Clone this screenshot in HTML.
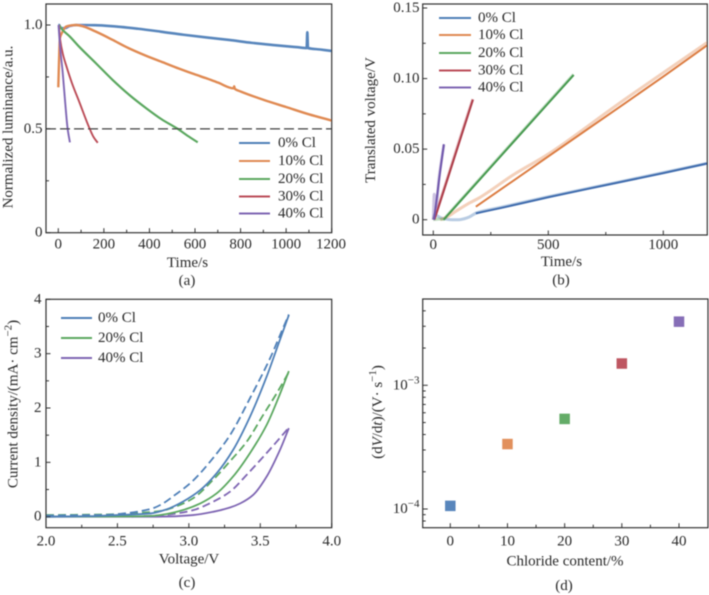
<!DOCTYPE html>
<html lang="en">
<head>
<meta charset="utf-8">
<title>Chloride content device measurements</title>
<style>
html,body{margin:0;padding:0;background:#fff;width:709px;height:595px;overflow:hidden}
svg{display:block;font-family:"Liberation Serif",serif;font-size:15px;fill:#2b2b2b}
</style>
</head>
<body>
<svg id="fig" width="709" height="595" viewBox="0 0 709 595" xmlns="http://www.w3.org/2000/svg">
<defs><filter id="soft" x="-5%" y="-5%" width="110%" height="110%"><feGaussianBlur stdDeviation="0.45"/></filter></defs>
<g id="root" filter="url(#soft)"></g>
</svg>
<script>
// ---------- shared ----------
const colorBlue = '#5080b8', colorOrange = '#e08a52', colorGreen = '#5ca860', colorRed = '#bb4e58', colorPurple = '#7f66b3';
const fitBlue = '#3f6cad', fitOrange = '#dc7d42', fitGreen = '#479a50', fitRed = '#ad3c4a', fitPurple = '#7056ab';

// ---------- panel (a) data: [time, luminance] ----------
const aTicksX = [0, 200, 400, 600, 800, 1000, 1200];
const aMinorX = [100, 300, 500, 700, 900, 1100];
const aTicksY = [0, 0.5, 1.0];
const aTickLabelsY = ['0', '0.5', '1.0'];
const aMinorY = [0.25, 0.75];
const aThreshold = 0.5;
const aLum0 = [[0,1.0],[4,1.0],[10,.985],[30,.985],[50,.995],[80,1.0],[160,.999],[250,.993],[350,.982],[450,.968],[550,.953],[650,.94],[750,.928],[850,.914],[950,.903],[1050,.893],[1090,.889],[1093,.965],[1096,.889],[1150,.882],[1200,.875]];
const aLum10 = [[0,.70],[3,.82],[7,.937],[15,.96],[34,.992],[55,.998],[78,1.0],[110,.993],[165,.968],[239,.928],[300,.893],[385,.852],[460,.82],[530,.79],[600,.762],[648,.744],[700,.723],[770,.695],[772,.705],[775,.692],[800,.68],[900,.64],[1000,.605],[1100,.57],[1200,.54]];
const aLum20 = [[3,1.0],[19,.976],[50,.945],[92,.895],[165,.816],[239,.735],[312,.663],[385,.6],[455,.545],[524,.5],[570,.465],[612,.435]];
const aLum30 = [[3,1.0],[8,.93],[20,.86],[34,.807],[60,.72],[92,.63],[136,.505],[155,.46],[173,.433]];
const aLum40 = [[1,1.0],[8,.89],[19,.775],[30,.63],[41,.5],[51,.435]];
const legendA = ['0% Cl', '10% Cl', '20% Cl', '30% Cl', '40% Cl'];

// ---------- panel (b) data: [time, voltage] ----------
const bTicksX = [0, 500, 1000];
const bMinorX = [250, 750];
const bTicksY = [0, 0.05, 0.10, 0.15];
const bTickLabelsY = ['0', '0.05', '0.10', '0.15'];
const bMinorY = [0.025, 0.075, 0.125];
const bRaw0 = [[0,0],[8,.004],[15,.003],[40,.001],[80,0],[110,0],[150,.0015],[190,.005],[300,.009],[500,.0163],[800,.0265],[1190,.0399]];
const bFit0 = [[185,.0045],[300,.0085],[500,.0159],[750,.0245],[1000,.033],[1190,.0398]];
const bRaw10 = [[30,0],[60,.002],[100,.0062],[150,.0112],[200,.0155],[350,.032],[500,.0465],[800,.0815],[1190,.1255]];
const bFit10 = [[185,.0092],[500,.0448],[750,.0731],[1000,.1014],[1190,.1235]];
const bRaw20 = [[0,0],[25,.0005],[45,.0003],[60,.003],[100,.0103],[300,.0467],[610,.103]];
const bFit20 = [[45,0],[300,.0463],[610,.1025]];
const bRaw30 = [[0,0],[10,.004],[60,.0285],[120,.0595],[172,.0855]];
const bFit30 = [[5,0],[60,.028],[120,.0585],[172,.085]];
const bRaw40 = [[0,0],[4,.018],[12,.009],[25,.03],[46,.053]];
const bFit40 = [[3,0],[15,.015],[30,.0345],[46,.0535]];
const legendB = ['0% Cl', '10% Cl', '20% Cl', '30% Cl', '40% Cl'];

// ---------- panel (c) data: [voltage, current] ----------
const cTicksX = [2.0, 2.5, 3.0, 3.5, 4.0];
const cTickLabelsX = ['2.0', '2.5', '3.0', '3.5', '4.0'];
const cMinorX = [2.25, 2.75, 3.25, 3.75];
const cTicksY = [0, 1, 2, 3, 4];
const cMinorY = [0.5, 1.5, 2.5, 3.5];
const cSolid0 = [[2,0],[2.3,.01],[2.5,.03],[2.73,.06],[2.845,.136],[2.96,.28],[3.08,.49],[3.195,.8],[3.31,1.23],[3.428,1.84],[3.545,2.58],[3.63,3.2],[3.7,3.71]];
const cDash0 = [[2,.02],[2.4,.03],[2.55,.06],[2.73,.14],[2.8,.215],[2.903,.4],[3.02,.64],[3.148,1.01],[3.288,1.5],[3.428,2.18],[3.568,2.91],[3.64,3.35],[3.7,3.72]];
const cSolid20 = [[2,0],[2.5,.005],[2.73,.013],[2.845,.05],[2.96,.123],[3.08,.245],[3.195,.43],[3.31,.74],[3.428,1.17],[3.545,1.69],[3.626,2.18],[3.7,2.68]];
const cDash20 = [[2,.03],[2.4,.04],[2.65,.07],[2.8,.105],[2.9,.18],[3.03,.34],[3.17,.68],[3.288,1.02],[3.405,1.38],[3.52,1.87],[3.615,2.27],[3.7,2.66]];
const cSolid40 = [[2,0],[2.7,0],[2.87,.005],[3.03,.03],[3.17,.09],[3.288,.17],[3.36,.245],[3.45,.4],[3.545,.74],[3.638,1.23],[3.7,1.63]];
const cDash40 = [[2.6,0],[2.8,.025],[2.915,.06],[3.03,.12],[3.17,.276],[3.288,.46],[3.405,.77],[3.52,1.1],[3.615,1.38],[3.7,1.64]];
const legendC = ['0% Cl', '20% Cl', '40% Cl'];

// ---------- panel (d) data ----------
const dContent = [0, 10, 20, 30, 40];
const dRate = [1.06e-4, 3.35e-4, 5.35e-4, 1.5e-3, 3.27e-3];
const dTicksX = [0, 10, 20, 30, 40];
const dMinorX = [5, 15, 25, 35];
const dMajorExp = [-4, -3];
const dMinorY = [8e-5, 9e-5, 2e-4, 3e-4, 4e-4, 5e-4, 6e-4, 7e-4, 8e-4, 9e-4, 2e-3, 3e-3, 4e-3];

// ---------- drawing helpers ----------
const NS = 'http://www.w3.org/2000/svg';
const root = document.getElementById('root');
function mk(tag, parent, attrs, name) {
  const el = document.createElementNS(NS, tag);
  for (const k in attrs) el.setAttribute(k, attrs[k]);
  
  
  parent.appendChild(el);
  return el;
}
function label(parent, x, y, str, anchor, name) {
  const t = mk('text', parent, {x: x, y: y, 'text-anchor': anchor || 'middle', 'dominant-baseline': 'central'}, name);
  t.textContent = str;
  return t;
}
function linear(d0, d1, p0, p1) { return v => p0 + (v - d0) * (p1 - p0) / (d1 - d0); }
function logScale(e0, p0, e1, p1) { return v => p0 + (Math.log10(v) - e0) * (p1 - p0) / (e1 - e0); }
function frame(g, box, name) {
  mk('rect', g, {x: box.x0, y: box.y0, width: box.x1 - box.x0, height: box.y1 - box.y0, fill: 'none', stroke: '#333', 'stroke-width': 1.2}, name);
}
function tickX(g, box, px, len, name) {
  mk('line', g, {x1: px, x2: px, y1: box.y1, y2: box.y1 - len, stroke: '#333', 'stroke-width': 1}, name);
}
function tickY(g, box, py, len, name) {
  mk('line', g, {x1: box.x0, x2: box.x0 + len, y1: py, y2: py, stroke: '#333', 'stroke-width': 1}, name);
}
// monotone cubic through pixel points, so curves stay smooth without overshoot
function smoothPath(P) {
  const n = P.length, m = [], s = [];
  for (let i = 0; i < n - 1; i++) s.push((P[i + 1][1] - P[i][1]) / (P[i + 1][0] - P[i][0]));
  m[0] = s[0];
  m[n - 1] = s[n - 2];
  for (let i = 1; i < n - 1; i++) {
    m[i] = s[i - 1] * s[i] <= 0 ? 0 : 2 * s[i - 1] * s[i] / (s[i - 1] + s[i]);
  }
  let d = 'M' + P[0][0].toFixed(2) + ',' + P[0][1].toFixed(2);
  for (let i = 0; i < n - 1; i++) {
    const h = (P[i + 1][0] - P[i][0]) / 3;
    d += 'C' + (P[i][0] + h).toFixed(2) + ',' + (P[i][1] + m[i] * h).toFixed(2) + ' ' +
         (P[i + 1][0] - h).toFixed(2) + ',' + (P[i + 1][1] - m[i + 1] * h).toFixed(2) + ' ' +
         P[i + 1][0].toFixed(2) + ',' + P[i + 1][1].toFixed(2);
  }
  return d;
}
function series(g, pts, sx, sy, color, width, opacity, dash, name) {
  const d = smoothPath(pts.map(p => [sx(p[0]), sy(p[1])]));
  const attrs = {d: d, fill: 'none', stroke: color, 'stroke-width': width, 'stroke-linejoin': 'round', 'stroke-linecap': 'butt', opacity: opacity};
  if (dash) attrs['stroke-dasharray'] = dash;
  return mk('path', g, attrs, name);
}
function legend(g, names, colors, xLine0, xLine1, xText, ys, width) {
  names.forEach((n, i) => {
    const e = mk('g', g, {}, 'legend-entry-' + n.replace('% Cl', '-cl'));
    mk('line', e, {x1: xLine0, x2: xLine1, y1: ys[i], y2: ys[i], stroke: colors[i], 'stroke-width': width}, 'legend-line');
    label(e, xText, ys[i], n, 'start', 'legend-label');
  });
}
function yTitle(g, x, y, name) {
  return mk('text', g, {x: x, y: y, transform: 'rotate(-90 ' + x + ' ' + y + ')', 'text-anchor': 'middle', 'dominant-baseline': 'central'}, name);
}
function span(parent, str, attrs) {
  const s = document.createElementNS(NS, 'tspan');
  for (const k in attrs) s.setAttribute(k, attrs[k]);
  s.textContent = str;
  parent.appendChild(s);
}

// ---------- panel (a) ----------
(function () {
  const g = mk('g', root, {}, 'panel-a');
  const box = {x0: 46, x1: 331.7, y0: 4, y1: 232.7};
  const sx = linear(0, 1200, 58.3, 331.7), sy = linear(0, 1, 232.7, 25);
  series(g, aLum0, sx, sy, colorBlue, 2.6, .95, null, 'series-0-cl');
  series(g, aLum10, sx, sy, colorOrange, 2.4, 1, null, 'series-10-cl');
  series(g, aLum20, sx, sy, colorGreen, 2.2, 1, null, 'series-20-cl');
  series(g, aLum30, sx, sy, colorRed, 1.9, 1, null, 'series-30-cl');
  series(g, aLum40, sx, sy, colorPurple, 1.9, 1, null, 'series-40-cl');
  mk('line', g, {x1: box.x0, x2: box.x1, y1: sy(aThreshold), y2: sy(aThreshold), stroke: '#444', 'stroke-width': 1.2, 'stroke-dasharray': '10 4'}, 'threshold-line');
  frame(g, box, 'plot-frame-a');
  aTicksX.forEach(v => { tickX(g, box, sx(v), 4.5, 'x-tick'); label(g, Math.min(sx(v), 331), 244.5, String(v), 'middle', 'x-tick-label'); });
  aMinorX.forEach(v => tickX(g, box, sx(v), 3, 'x-minor-tick'));
  aTicksY.forEach((v, i) => { tickY(g, box, sy(v), 4.5, 'y-tick'); label(g, 42.5, sy(v), aTickLabelsY[i], 'end', 'y-tick-label'); });
  aMinorY.forEach(v => tickY(g, box, sy(v), 3, 'y-minor-tick'));
  label(g, 187.5, 263, 'Time/s', 'middle', 'x-axis-title');
  label(g, 187, 281, '(a)', 'middle', 'panel-label-a');
  yTitle(g, 8.5, 127, 'y-axis-title').textContent = 'Normalized luminance/a.u.';
  legend(g, legendA, [colorBlue, colorOrange, colorGreen, colorRed, colorPurple], 239, 270, 278, [143, 161, 179, 196.5, 213.5], 2);
})();

// ---------- panel (b) ----------
(function () {
  const g = mk('g', root, {}, 'panel-b');
  const box = {x0: 422.7, x1: 707.3, y0: 4, y1: 235};
  const sx = linear(0, 1000, 433.3, 663.3), sy = linear(0, 0.15, 219.7, 8);
  const clip = mk('clipPath', g, {id: 'clipB'}, 'clip-b');
  mk('rect', clip, {x: box.x0, y: box.y0, width: box.x1 - box.x0, height: box.y1 - box.y0}, 'clip-b-rect');
  const d = mk('g', g, {'clip-path': 'url(#clipB)'}, 'series-b');
  [[bRaw0, bFit0, colorBlue, fitBlue, '0'], [bRaw10, bFit10, colorOrange, fitOrange, '10'], [bRaw20, bFit20, colorGreen, fitGreen, '20'], [bRaw30, bFit30, colorRed, fitRed, '30'], [bRaw40, bFit40, colorPurple, fitPurple, '40']].forEach(s => {
    series(d, s[0], sx, sy, s[2], 3, .4, null, 'raw-voltage-' + s[4] + '-cl');
    series(d, s[1], sx, sy, s[3], 2, 1, null, 'fit-line-' + s[4] + '-cl');
  });
  frame(g, box, 'plot-frame-b');
  bTicksX.forEach(v => { tickX(g, box, sx(v), 4.5, 'x-tick'); label(g, sx(v), 245, String(v), 'middle', 'x-tick-label'); });
  bMinorX.forEach(v => tickX(g, box, sx(v), 3, 'x-minor-tick'));
  bTicksY.forEach((v, i) => { tickY(g, box, sy(v), 4.5, 'y-tick'); label(g, 419.5, sy(v), bTickLabelsY[i], 'end', 'y-tick-label'); });
  bMinorY.forEach(v => tickY(g, box, sy(v), 3, 'y-minor-tick'));
  label(g, 561.5, 262, 'Time/s', 'middle', 'x-axis-title');
  label(g, 561, 280.5, '(b)', 'middle', 'panel-label-b');
  yTitle(g, 371, 120, 'y-axis-title').textContent = 'Translated voltage/V';
  legend(g, legendB, [colorBlue, colorOrange, colorGreen, colorRed, colorPurple], 439, 471, 478, [18, 35, 53, 70.5, 87.5], 2);
})();

// ---------- panel (c) ----------
(function () {
  const g = mk('g', root, {}, 'panel-c');
  const box = {x0: 46, x1: 331.7, y0: 299.3, y1: 527.7};
  const sx = linear(2, 4, 46, 331.7), sy = linear(0, 4, 516.7, 299.3);
  series(g, cSolid40, sx, sy, colorPurple, 1.8, 1, null, 'solid-40-cl');
  series(g, cDash40, sx, sy, colorPurple, 1.8, 1, '8 4', 'dashed-40-cl');
  series(g, cSolid20, sx, sy, colorGreen, 1.8, 1, null, 'solid-20-cl');
  series(g, cDash20, sx, sy, colorGreen, 1.8, 1, '8 4', 'dashed-20-cl');
  series(g, cSolid0, sx, sy, colorBlue, 1.8, 1, null, 'solid-0-cl');
  series(g, cDash0, sx, sy, colorBlue, 1.8, 1, '8 4', 'dashed-0-cl');
  frame(g, box, 'plot-frame-c');
  cTicksX.forEach((v, i) => { tickX(g, box, sx(v), 4.5, 'x-tick'); label(g, sx(v), 541.5, cTickLabelsX[i], 'middle', 'x-tick-label'); });
  cMinorX.forEach(v => tickX(g, box, sx(v), 3, 'x-minor-tick'));
  cTicksY.forEach(v => { tickY(g, box, sy(v), 4.5, 'y-tick'); label(g, 41.5, sy(v), String(v), 'end', 'y-tick-label'); });
  cMinorY.forEach(v => tickY(g, box, sy(v), 3, 'y-minor-tick'));
  label(g, 189, 559.5, 'Voltage/V', 'middle', 'x-axis-title');
  label(g, 187, 583, '(c)', 'middle', 'panel-label-c');
  const t = yTitle(g, 13.5, 404, 'y-axis-title');
  span(t, 'Current density/(mA\u00B7 cm', {});
  span(t, '\u22122', {dy: '-5', 'font-size': '11'});
  span(t, ')', {dy: '5'});
  legend(g, legendC, [colorBlue, colorGreen, colorPurple], 61, 92, 98, [318, 338, 358], 2);
})();

// ---------- panel (d) ----------
(function () {
  const g = mk('g', root, {}, 'panel-d');
  const box = {x0: 422.7, x1: 708, y0: 299, y1: 527.7};
  const sx = linear(0, 40, 450.3, 679), sy = logScale(-4, 509, -3, 385.3);
  const cols = [colorBlue, colorOrange, colorGreen, colorRed, colorPurple];
  dContent.forEach((c, i) => {
    const s = 10.5;
    mk('rect', g, {x: sx(c) - s / 2, y: sy(dRate[i]) - s / 2, width: s, height: s, fill: cols[i], opacity: .95}, 'point-' + c + '-cl');
  });
  frame(g, box, 'plot-frame-d');
  dTicksX.forEach(v => { tickX(g, box, sx(v), 4.5, 'x-tick'); label(g, sx(v), 541.5, String(v), 'middle', 'x-tick-label'); });
  dMinorX.forEach(v => tickX(g, box, sx(v), 3, 'x-minor-tick'));
  dMajorExp.forEach(e => {
    const py = sy(Math.pow(10, e));
    tickY(g, box, py, 5, 'y-tick');
    const t = mk('text', g, {x: 419.5, y: py, 'text-anchor': 'end', 'dominant-baseline': 'central'}, 'y-tick-label');
    span(t, '10', {});
    span(t, '\u2212' + Math.abs(e), {dy: '-5', 'font-size': '11'});
  });
  dMinorY.forEach(v => tickY(g, box, sy(v), 3, 'y-minor-tick'));
  label(g, 565, 561.5, 'Chloride content/%', 'middle', 'x-axis-title');
  label(g, 564, 586, '(d)', 'middle', 'panel-label-d');
  const t = yTitle(g, 378, 412, 'y-axis-title');
  span(t, '(d', {});
  span(t, 'V', {'font-style': 'italic'});
  span(t, '/d', {});
  span(t, 't', {'font-style': 'italic'});
  span(t, ')/(V\u00B7 s', {});
  span(t, '\u22121', {dy: '-5', 'font-size': '11'});
  span(t, ')', {dy: '5'});
})();
</script>
</body>
</html>
